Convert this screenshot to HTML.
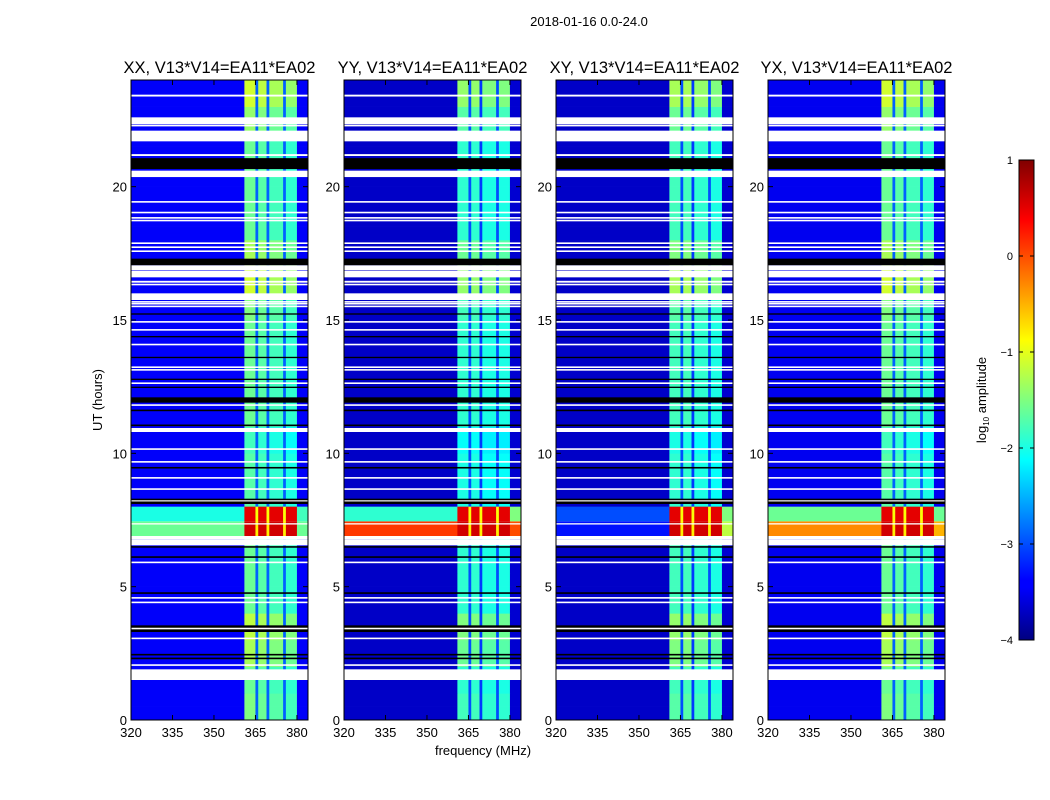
<!DOCTYPE html>
<html><head><meta charset="utf-8"><style>
body{margin:0;background:#fff;}
svg{display:block;font-family:"Liberation Sans","DejaVu Sans",sans-serif;}
</style></head><body>
<svg id="fig" width="1050" height="800" viewBox="0 0 1050 800" xmlns="http://www.w3.org/2000/svg">
<defs>
<linearGradient id="jetgrad" x1="0" y1="1" x2="0" y2="0">
<stop offset="0" stop-color="#000080"/><stop offset="0.11" stop-color="#0000ff"/>
<stop offset="0.125" stop-color="#0000ff"/><stop offset="0.375" stop-color="#00ffff"/>
<stop offset="0.625" stop-color="#ffff00"/><stop offset="0.875" stop-color="#ff0000"/>
<stop offset="1" stop-color="#800000"/>
</linearGradient>
</defs>
<text x="589" y="26" font-size="13" text-anchor="middle">2018-01-16 0.0-24.0</text>
<text x="483" y="755" font-size="13" text-anchor="middle">frequency (MHz)</text>
<text transform="translate(102,400) rotate(-90)" font-size="13" text-anchor="middle">UT (hours)</text>
<g id="panels"></g>
<g>
<rect x="1019" y="160" width="15" height="480" fill="url(#jetgrad)" stroke="#000" stroke-width="1"/>
<g id="cbticks"></g>
<text transform="translate(986,400) rotate(-90)" font-size="13" text-anchor="middle">log<tspan font-size="8" dy="3">10</tspan><tspan dy="-3"> amplitude</tspan></text>
</g>
</svg>
<script>
// ---- data ----
const panelTitles = ["XX, V13*V14=EA11*EA02","YY, V13*V14=EA11*EA02","XY, V13*V14=EA11*EA02","YX, V13*V14=EA11*EA02"];
const xTicks = [320,335,350,365,380];
const yTicks = [0,5,10,15,20];
const cbTicks = [1,0,-1,-2,-3,-4];
const cbTickLabels = ["1","0","\u22121","\u22122","\u22123","\u22124"];
// frequency segment starts (MHz); last segment ends at 384
const chanStart = [320,361,365,366,369,370,375,376,380];
const isBand    = [0,1,0,1,0,1,0,1,0];
const levelXX = [-3.4,-1.6,-2.9,-1.7,-2.9,-1.8,-2.9,-1.9,-3.4];
const levelYY = [-3.65,-1.9,-3.0,-1.9,-3.1,-2.0,-3.0,-2.0,-3.6];
const levelXY = [-3.65,-1.8,-3.0,-1.8,-3.1,-1.9,-3.0,-2.0,-3.6];
const levelYX = [-3.45,-1.6,-2.9,-1.7,-2.9,-1.8,-2.9,-1.9,-3.45];
// band brightening per hour (0..23)
const hourBoost = [0.1,0,0.3,0.4,0,0,0,0,-0.1,-0.1,-0.2,0,0,0,0,0.1,0.5,0.3,0,0,0,0,0.2,0.5];
// RFI interval (hours) with two sub-layers
const rfiSpan = [6.9,7.45,8.0];
const rfiLowXX  = [-1.6,0.6,-0.8,0.6,-0.8,0.6,-0.8,0.6,-1.6];
const rfiHighXX = [-2.0,0.5,-0.9,0.5,-0.9,0.5,-0.9,0.5,-1.8];
const rfiLowYY  = [0.1,0.6,-0.8,0.6,-0.8,0.6,-0.8,0.6,0.0];
const rfiHighYY = [-1.9,0.5,-0.9,0.5,-0.9,0.5,-0.9,0.5,-1.5];
const rfiLowXY  = [-3.3,0.6,-0.8,0.6,-0.8,0.6,-0.8,0.6,-1.2];
const rfiHighXY = [-3.0,0.5,-0.9,0.5,-0.9,0.5,-0.9,0.5,-1.5];
const rfiLowYX  = [-0.3,0.6,-0.8,0.6,-0.8,0.6,-0.8,0.6,-0.5];
const rfiHighYX = [-1.6,0.5,-0.9,0.5,-0.9,0.5,-0.9,0.5,-1.6];
// flagged intervals [start hour, end hour, kind]
const flagStart = [23.38,22.35,22.26,21.7,21.15,20.66,20.36,19.4,19.0,18.8,18.7,17.85,17.7,17.55,17.05,16.87,16.6,16.4,16.3,15.75,15.65,15.58,15.48,15.2,14.35,13.57,12.75,12.45,14.9,14.6,14.05,13.2,13.1,12.6,11.9,11.78,11.58,11.02,10.8,10.13,9.65,9.43,9.05,8.63,8.1,8.2,6.78,6.55,6.46,6.08,5.88,4.73,4.55,4.38,3.3,3.4,3.03,2.42,2.28,2.03,1.5,7.33];
const flagEnd   = [23.45,22.6,22.33,22.1,21.22,21.07,20.6,19.46,19.06,18.86,18.76,17.91,17.76,17.61,17.3,17.05,16.85,16.47,16.36,16.0,15.71,15.64,15.54,15.25,14.4,13.62,12.8,12.5,14.96,14.66,14.11,13.26,13.16,12.66,12.1,11.84,11.64,11.08,10.95,10.19,9.71,9.49,9.11,8.69,8.3,8.24,6.9,6.78,6.52,6.14,5.94,4.79,4.61,4.44,3.55,3.46,3.09,2.48,2.34,2.09,1.9,7.38];
const flagKind  = ["w","w","w","w","w","k","w","w","w","w","w","w","w","w","k","w","w","w","w","w","w","w","w","k","k","k","k","k","w","w","w","w","w","w","k","w","k","k","w","w","w","k","w","w","k","w","w","w","k","k","w","k","w","w","k","w","w","k","k","w","w","w"];

const panelLevels = [levelXX,levelYY,levelXY,levelYX];
const panelRfiLow = [rfiLowXX,rfiLowYY,rfiLowXY,rfiLowYX];
const panelRfiHigh = [rfiHighXX,rfiHighYY,rfiHighXY,rfiHighYX];
const panelX = [131,344,556,768];
const PW = 177, PT = 80, PB = 720, F0 = 320, F1 = 384, T0 = 0, T1 = 24;

function jet(v){
  let t=(v+4)/5; t=Math.max(0,Math.min(1,t));
  const c=x=>Math.round(255*Math.max(0,Math.min(1,x)));
  const r=c(Math.min(4*t-1.5,-4*t+4.5)), g=c(Math.min(4*t-0.5,-4*t+3.5)), b=c(Math.min(4*t+0.5,-4*t+2.5));
  return `rgb(${r},${g},${b})`;
}
const NS="http://www.w3.org/2000/svg";
function mk(tag,attrs,parent){const e=document.createElementNS(NS,tag);for(const k in attrs)e.setAttribute(k,attrs[k]);parent.appendChild(e);return e;}

const root=document.getElementById('panels');
panelTitles.forEach((title,p)=>{
  const x0=panelX[p];
  const xs=f=>x0+(f-F0)/(F1-F0)*PW;
  const ys=t=>PB-(t-T0)/(T1-T0)*(PB-PT);
  const g=mk('g',{},root);
  
  
  const lv=panelLevels[p];
  for(let h=0;h<48;h++){
    const t0=h/2, t1=t0+0.5;
    if(t0>=rfiSpan[0]-0.01 && t1<=rfiSpan[2]+0.01) continue;
    for(let s=0;s<chanStart.length;s++){
      const fa=chanStart[s], fb=s+1<chanStart.length?chanStart[s+1]:F1;
      const v=lv[s]+(isBand[s]?hourBoost[Math.floor(t0)]:0);
      const r=mk('rect',{x:xs(fa),y:ys(t1),width:xs(fb)-xs(fa)+0.3,height:ys(t0)-ys(t1)+0.3,fill:jet(v)},g);
      
      
    }
  }
  [[rfiSpan[0],rfiSpan[1],panelRfiLow[p]],[rfiSpan[1],rfiSpan[2],panelRfiHigh[p]]].forEach(([ta,tb,arr])=>{
    for(let s=0;s<chanStart.length;s++){
      const fa=chanStart[s], fb=s+1<chanStart.length?chanStart[s+1]:F1;
      const r=mk('rect',{x:xs(fa),y:ys(tb),width:xs(fb)-xs(fa)+0.3,height:ys(ta)-ys(tb),fill:jet(arr[s])},g);
      
      
    }
  });
  for(let i=0;i<flagStart.length;i++){
    const r=mk('rect',{x:x0,y:ys(flagEnd[i]),width:PW,height:Math.max(1.2,ys(flagStart[i])-ys(flagEnd[i])),fill:flagKind[i]==='w'?'#fff':'#000'},g);
    
    
  }
  const fr=mk('rect',{x:x0,y:PT,width:PW,height:PB-PT,fill:'none',stroke:'#000','stroke-width':1},g);
  
  
  const tt=mk('text',{x:x0+PW/2,y:73,'font-size':16.5,'text-anchor':'middle'},g);
  tt.textContent=title;
  
  
  xTicks.forEach(f=>{
    const x=xs(f);
    const l1=mk('line',{x1:x,x2:x,y1:PB,y2:PB-5,stroke:'#000'},g);
    
    
    const l2=mk('line',{x1:x,x2:x,y1:PT,y2:PT+5,stroke:'#000'},g);
    
    
    const tx=mk('text',{x:x,y:PB+17,'font-size':13,'text-anchor':'middle'},g);
    tx.textContent=f;
    
    
  });
  yTicks.forEach(t=>{
    const y=ys(t);
    const l1=mk('line',{x1:x0,x2:x0+5,y1:y,y2:y,stroke:'#000'},g);
    
    
    const l2=mk('line',{x1:x0+PW,x2:x0+PW-5,y1:y,y2:y,stroke:'#000'},g);
    
    
    const tx=mk('text',{x:x0-4,y:y+5,'font-size':13,'text-anchor':'end'},g);
    tx.textContent=t;
    
    
  });
});
const cb=document.getElementById('cbticks');
cbTicks.forEach((v,i)=>{
  const y=160+(1-v)/5*480;
  const l=mk('line',{x1:1019,x2:1023,y1:y,y2:y,stroke:'#000'},cb);
  
  
  const l2=mk('line',{x1:1030,x2:1034,y1:y,y2:y,stroke:'#000'},cb);
  
  
  const tx=mk('text',{x:1013,y:y+4,'font-size':11,'text-anchor':'end'},cb);
  tx.textContent=cbTickLabels[i];
  
  
});
</script>
</body></html>
